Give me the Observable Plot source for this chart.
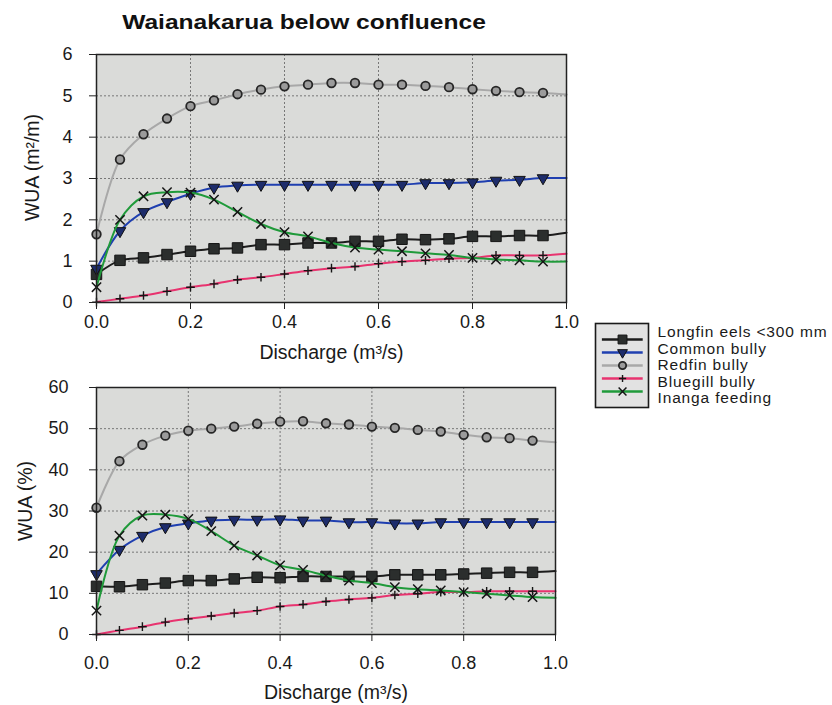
<!DOCTYPE html>
<html>
<head>
<meta charset="utf-8">
<script src="https://cdn.jsdelivr.net/npm/d3@7"></script>
<script src="https://cdn.jsdelivr.net/npm/@observablehq/plot@0.6"></script>
<style>
  body { margin: 0; background: #fff; font-family: Arial, "Liberation Sans", Helvetica, sans-serif; }
  #wrap { position: relative; width: 832px; height: 705px; overflow: hidden; background: #fff; }
  #title { position: absolute; left: 0; top: 10px; width: 608px; text-align: center; font-weight: bold;
           font-size: 21px; line-height: 24px; color: #111; transform: scaleX(1.17); transform-origin: 304px 0; }
  .abs { position: absolute; }
</style>
</head>
<body>
<div id="wrap">
  <div id="title">Waianakarua below confluence</div>
  <div id="top" class="abs" style="left:0;top:40px"></div>
  <div id="bot" class="abs" style="left:0;top:370px"></div>
  <div id="leg" class="abs" style="left:590px;top:318px"></div>
</div>
<script>
// ---------- data ----------
const seriesNames = ["Longfin eels <300 mm", "Common bully", "Redfin bully", "Bluegill bully", "Inanga feeding"];
const discharge = [0, 0.05, 0.10, 0.15, 0.20, 0.25, 0.30, 0.35, 0.40, 0.45, 0.50, 0.55, 0.60, 0.65, 0.70, 0.75, 0.80, 0.85, 0.90, 0.95, 1.00];

// WUA (m2/m)
const longfinTop  = [0.68, 1.02, 1.08, 1.16, 1.24, 1.30, 1.32, 1.40, 1.40, 1.44, 1.44, 1.48, 1.48, 1.53, 1.52, 1.54, 1.60, 1.60, 1.62, 1.62, 1.69];
const commonTop   = [0.82, 1.73, 2.19, 2.43, 2.63, 2.78, 2.83, 2.85, 2.85, 2.85, 2.85, 2.85, 2.85, 2.85, 2.89, 2.89, 2.91, 2.95, 2.97, 3.01, 3.01];
const redfinTop   = [1.65, 3.46, 4.07, 4.45, 4.75, 4.89, 5.04, 5.15, 5.23, 5.27, 5.31, 5.31, 5.27, 5.27, 5.24, 5.21, 5.16, 5.12, 5.09, 5.07, 5.03];
const bluegillTop = [0.01, 0.09, 0.17, 0.27, 0.37, 0.45, 0.55, 0.61, 0.69, 0.77, 0.83, 0.87, 0.94, 0.99, 1.02, 1.06, 1.08, 1.14, 1.14, 1.14, 1.18];
const inangaTop   = [0.37, 2.00, 2.57, 2.67, 2.66, 2.49, 2.19, 1.90, 1.70, 1.60, 1.44, 1.33, 1.28, 1.24, 1.19, 1.15, 1.08, 1.04, 1.02, 0.99, 0.99];

// WUA (%)
const longfinBot  = [11.7, 11.6, 12.1, 12.5, 13.1, 13.1, 13.5, 13.9, 13.8, 14.1, 14.1, 14.1, 14.1, 14.5, 14.5, 14.5, 14.7, 14.9, 15.1, 15.1, 15.4];
const commonBot   = [14.7, 20.6, 24.0, 26.1, 27.0, 27.7, 27.9, 27.9, 28.0, 27.7, 27.7, 27.3, 27.3, 27.0, 27.0, 27.3, 27.3, 27.3, 27.3, 27.3, 27.3];
const redfinBot   = [30.8, 42.1, 46.1, 48.3, 49.5, 50.0, 50.5, 51.2, 51.7, 51.8, 51.3, 51.0, 50.5, 50.2, 49.7, 49.3, 48.5, 47.9, 47.7, 47.1, 46.7];
const bluegillBot = [0.0, 1.0, 1.9, 3.0, 3.8, 4.5, 5.2, 5.8, 6.8, 7.3, 8.0, 8.5, 8.9, 9.6, 9.9, 10.3, 10.3, 10.5, 10.5, 10.5, 10.5];
const inangaBot   = [5.8, 24.0, 28.9, 29.1, 28.1, 25.1, 21.6, 19.2, 16.8, 15.7, 14.3, 13.1, 12.5, 11.5, 11.0, 10.7, 10.3, 9.9, 9.5, 9.1, 8.9];

const xTicks = [0, 0.2, 0.4, 0.6, 0.8, 1.0];
const yTicksTop = [0, 1, 2, 3, 4, 5, 6];
const yTicksBot = [0, 10, 20, 30, 40, 50, 60];
const xLabel = "Discharge (m³/s)";
const yLabelTop = "WUA (m²/m)";
const yLabelBot = "WUA (%)";

// ---------- styles ----------
const triangleDown = {
  draw(ctx, size) {
    const y = Math.sqrt(size / (3 * Math.sqrt(3)));
    const s3 = Math.sqrt(3);
    ctx.moveTo(0, 2 * y);
    ctx.lineTo(-s3 * y, -y);
    ctx.lineTo(s3 * y, -y);
    ctx.closePath();
  }
};
const lineColors = ["#1c1c1c", "#1f3fb0", "#a8a8a8", "#e8336f", "#1f9a3a"];
const markerSymbols = ["square", triangleDown, "circle", "plus", "times"];
const markerFills = ["#2b2e2d", "#1d2c6b", "#9b9b9b", "none", "none"];
const markerStrokes = ["#151515", "#111111", "#262626", "#151515", "#151515"];
const markerR = [5.9, 4.3, 4.3, 2.9, 4.3];
const markerSW = [1, 1, 1.8, 1.4, 1.5];

const fontFamily = "Arial, 'Liberation Sans', Helvetica, sans-serif";

function rowsFor(values) {
  return discharge.map((x, j) => ({x, y: values[j], marker: j < discharge.length - 1}));
}

function makeChart(seriesValues, o) {
  const marks = [
    Plot.frame({fill: "#dadbd9"}),
    Plot.gridY(o.yTicks.slice(1, -1), {stroke: "#777", strokeOpacity: 1, strokeDasharray: "2,2", strokeWidth: 1}),
    Plot.gridX(xTicks.slice(1, -1), {stroke: "#777", strokeOpacity: 1, strokeDasharray: "2,2", strokeWidth: 1})
  ];
  seriesValues.forEach((vals, i) => {
    const rows = rowsFor(vals);
    marks.push(Plot.line(rows, {x: "x", y: "y", stroke: lineColors[i], strokeWidth: 2, curve: "catmull-rom"}));
    marks.push(Plot.dot(rows.filter(d => d.marker), {
      x: "x", y: "y", symbol: markerSymbols[i], r: markerR[i],
      fill: markerFills[i], stroke: markerStrokes[i], strokeWidth: markerSW[i]
    }));
  });
  marks.push(
    Plot.frame({stroke: "#222", strokeWidth: 1.5}),
    Plot.axisX(xTicks, {tickSize: 7, tickPadding: o.xTickPad, tickFormat: d3.format(".1f"), label: null, stroke: "#222"}),
    Plot.axisY(o.yTicks, {tickSize: 7, tickPadding: o.yTickPad, label: null, stroke: "#222"}),
    Plot.text([xLabel], {text: d => d, frameAnchor: "bottom", textAnchor: "middle", lineAnchor: "middle",
      dx: o.xLabelDx, dy: o.xLabelDy, fontSize: 19.5, fill: "#1a1a1a"}),
    Plot.text([o.yLabel], {text: d => d, frameAnchor: "left", textAnchor: "middle", lineAnchor: "middle",
      rotate: -90, dx: o.yLabelDx, dy: o.yLabelDy, fontSize: 19.5, fill: "#1a1a1a"})
  );
  return Plot.plot({
    width: o.width, height: o.height,
    marginLeft: o.ml, marginRight: o.mr, marginTop: o.mt, marginBottom: o.mb,
    x: {domain: [0, 1]},
    y: {domain: [o.yTicks[0], o.yTicks[o.yTicks.length - 1]]},
    style: {fontFamily, fontSize: "18px", color: "#1a1a1a", background: "transparent", overflow: "visible"},
    marks
  });
}

document.getElementById("top").append(makeChart(
  [longfinTop, commonTop, redfinTop, bluegillTop, inangaTop],
  {yTicks: yTicksTop, yLabel: yLabelTop, width: 600, height: 330, ml: 96, mr: 34, mt: 14, mb: 68,
   xTickPad: 6, yTickPad: 17, xLabelDx: 0, xLabelDy: 50, yLabelDx: -64, yLabelDy: -11}
));
document.getElementById("bot").append(makeChart(
  [longfinBot, commonBot, redfinBot, bluegillBot, inangaBot],
  {yTicks: yTicksBot, yLabel: yLabelBot, width: 600, height: 335, ml: 96, mr: 45, mt: 17, mb: 71,
   xTickPad: 15, yTickPad: 21, xLabelDx: 10, xLabelDy: 58, yLabelDx: -71, yLabelDy: -10}
));

// ---------- legend ----------
const legFont = 15.5, legStep = 16.4;
const legMarks = [Plot.frame({fill: "#e2e2e2", stroke: "#1a1a1a", strokeWidth: 1.6})];
seriesNames.forEach((name, i) => {
  legMarks.push(Plot.ruleY([name], {y: d => d, x1: 0.13, x2: 0.9, stroke: lineColors[i], strokeWidth: 2.4}));
  legMarks.push(Plot.dot([name], {x: 0.51, y: d => d, symbol: markerSymbols[i], r: markerR[i] * 0.85,
    fill: markerFills[i], stroke: markerStrokes[i], strokeWidth: markerSW[i]}));
});
legMarks.push(Plot.text([seriesNames.join("\n")], {text: d => d, frameAnchor: "left", dx: 62, dy: -0.5,
  textAnchor: "start", lineAnchor: "middle", lineHeight: legStep / legFont, fontSize: legFont, fill: "#1a1a1a"}));
document.getElementById("leg").append(Plot.plot({
  width: 242, height: 94, marginLeft: 5, marginRight: 184, marginTop: 5, marginBottom: 5,
  x: {domain: [0, 1], axis: null},
  y: {type: "point", domain: seriesNames, range: [46.5 - 2 * legStep, 46.5 + 2 * legStep], axis: null},
  style: {fontFamily, background: "transparent", overflow: "visible", letterSpacing: "0.85px"},
  marks: legMarks
}));
</script>
</body>
</html>
